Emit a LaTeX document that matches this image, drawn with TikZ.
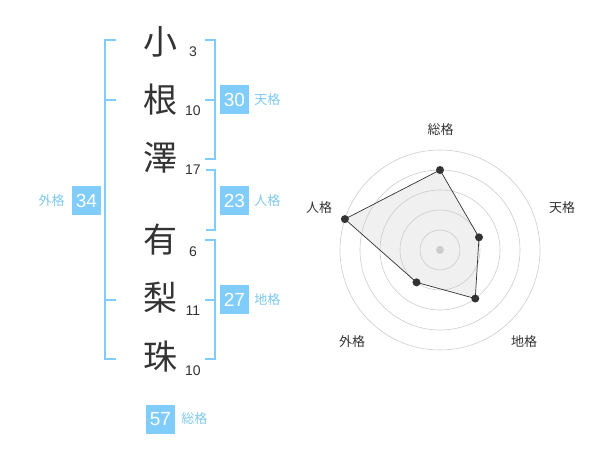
\documentclass[tikz,border=0pt]{standalone}
\usepackage{fontspec}
\setmainfont{Liberation Sans}
\newfontfamily\jpfont{Noto Sans CJK JP}
\usetikzlibrary{positioning}
\definecolor{kakublue}{RGB}{128,204,250}
\definecolor{kakutext}{RGB}{125,200,242}
\definecolor{inkgray}{RGB}{51,51,51}

\begin{document}
\begin{tikzpicture}[x=1pt,y=-1pt,
	kanji/.style={text=inkgray, inner sep=0pt, font=\jpfont\fontsize{34}{34}\selectfont},
	kakusu/.style={text=inkgray, inner sep=0pt, anchor=base, font=\fontsize{14}{14}\selectfont},
	bracket/.style={draw=kakublue, line width=2pt},
	valbox/.style={fill=kakublue, text=white, minimum width=29pt, minimum height=29pt, inner sep=0pt, font=\fontsize{19}{19}\selectfont},
	kakuname/.style={text=kakutext, inner sep=0pt, font=\jpfont\fontsize{13}{13}\selectfont},
	ring/.style={draw=black!20, line width=0.6pt},
	axlabel/.style={text=inkgray, inner sep=0pt, font=\jpfont\fontsize{13}{13}\selectfont}]

	\useasboundingbox (0,0) rectangle (600,470);

	\node [kanji] (k1) at (160, 42) {小};
	\node [kanji] (k2) at (160, 100) {根};
	\node [kanji] (k3) at (160, 158) {澤};
	\node [kanji] (k4) at (160, 240) {有};
	\node [kanji] (k5) at (160, 298) {梨};
	\node [kanji] (k6) at (160, 357) {珠};

	\node [kakusu] (n1) at (193, 57) {3};
	\node [kakusu] (n2) at (193, 116) {10};
	\node [kakusu] (n3) at (193, 175) {17};
	\node [kakusu] (n4) at (193, 257) {6};
	\node [kakusu] (n5) at (193, 316) {11};
	\node [kakusu] (n6) at (193, 376) {10};

	\coordinate (gai top) at (116, 40);
	\coordinate (gai bot) at (116, 359);
	\draw [bracket] (gai top) -- (105, 40) -- (105, 359) -- (gai bot);
	\draw [bracket] (105, 100) -- (116, 100);
	\draw [bracket] (105, 300) -- (116, 300);

	\coordinate (ten top) at (205, 40);
	\coordinate (ten bot) at (205, 159);
	\draw [bracket] (ten top) -- (215, 40) -- (215, 159) -- (ten bot);
	\draw [bracket] (205, 100) -- (215, 100);

	\coordinate (jin top) at (206, 170);
	\coordinate (jin bot) at (206, 230);
	\draw [bracket] (jin top) -- (215, 170) -- (215, 230) -- (jin bot);

	\coordinate (chi top) at (205, 240);
	\coordinate (chi bot) at (205, 359);
	\draw [bracket] (chi top) -- (215, 240) -- (215, 359) -- (chi bot);
	\draw [bracket] (205, 300) -- (215, 300);

	\node [valbox] (ten) at (234.5, 100) {30};
	\node [kakuname, right=5pt of ten] {天格};
	\node [valbox] (jin) at (234.5, 200.5) {23};
	\node [kakuname, right=5pt of jin] {人格};
	\node [valbox] (chi) at (234.5, 300) {27};
	\node [kakuname, right=5pt of chi] {地格};
	\node [valbox] (gai) at (86.5, 200.5) {34};
	\node [kakuname, left=7pt of gai] {外格};
	\node [valbox] (sou) at (160.5, 419) {57};
	\node [kakuname, right=6pt of sou] {総格};

	\begin{scope}[shift={(440, 250)}, y=1pt]
	\coordinate (p1) at (90:80);
	\coordinate (p2) at (18:41);
	\coordinate (p3) at (-54:60);
	\coordinate (p4) at (-126:40);
	\coordinate (p5) at (162:100);
	\fill [black!6] (p1) -- (p2) -- (p3) -- (p4) -- (p5) -- cycle;

	\foreach \r in {20, 40, 60, 80, 100}
		\draw [ring] (0,0) circle (\r);
	\fill [black!20] (0,0) circle (4);

	\draw [inkgray, line width=0.7pt] (p1) -- (p2) -- (p3) -- (p4) -- (p5) -- cycle;
	\foreach \p in {p1, p2, p3, p4, p5}
		\fill [inkgray] (\p) circle (4);

	\node [axlabel] (l1) at (0.7, 120) {総格};
	\node [axlabel] (l2) at (122, 42) {天格};
	\node [axlabel] (l3) at (84, -92) {地格};
	\node [axlabel] (l4) at (-88, -92) {外格};
	\node [axlabel] (l5) at (-121, 42) {人格};
	\end{scope}
\end{tikzpicture}
\end{document}
